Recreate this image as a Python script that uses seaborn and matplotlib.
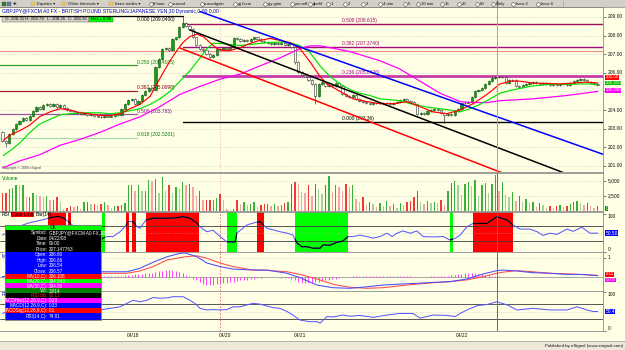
import matplotlib
matplotlib.use("Agg")
import matplotlib.pyplot as plt
from matplotlib.patches import Rectangle
import numpy as np
import pandas as pd
import seaborn as sns

# ---------------- data ----------------
closes = [
    202.35, 202.20, 202.70, 203.00, 203.25, 203.40, 203.55, 203.45, 203.70, 203.95,
    204.15, 204.05, 204.25, 204.30, 204.20, 204.30, 204.15, 204.25, 204.10, 204.00,
    203.95, 203.85, 203.90, 203.80, 203.85, 203.75, 203.80, 203.70, 203.65, 203.60,
    203.70, 203.65, 203.70, 203.80, 203.75, 204.05, 204.30, 204.55, 204.60, 204.30,
    204.50, 204.80, 205.00, 205.20, 205.10, 206.30, 206.75, 207.30, 207.35, 207.20,
    207.80, 207.90, 208.45, 208.70, 208.50, 208.35, 207.90, 207.50, 207.30, 207.20,
    207.00, 206.85, 206.95, 207.30, 207.25, 207.35, 207.30, 207.40, 207.85, 207.80,
    207.70, 207.75, 207.70, 207.80, 207.90, 207.80, 207.70, 207.65, 207.60, 207.55,
    207.60, 207.55, 207.60, 207.50, 207.55, 207.40, 206.60, 206.05, 205.90, 205.80,
    205.60, 205.40, 204.75, 205.40, 205.50, 205.30, 205.35, 205.30, 205.45, 205.30,
    204.85, 204.75, 204.70, 204.80, 204.60, 204.50, 204.45, 204.35, 204.30, 204.40,
    204.35, 204.40, 204.35, 204.40, 204.30, 204.40, 204.45, 204.55, 204.60, 204.50,
    204.45, 204.30, 203.80, 203.85, 203.80, 203.95, 204.00, 204.05, 204.00, 203.85,
    203.75, 203.80, 203.75, 203.95, 204.05, 204.35, 204.40, 204.45, 204.70, 205.00,
    205.10, 205.20, 205.40, 205.55, 205.70, 205.80, 205.75, 205.80, 205.45, 205.60,
    205.60, 205.30, 205.25, 205.35, 205.40, 205.45, 205.50, 205.45, 205.40, 205.45,
    205.40, 205.35, 205.40, 205.35, 205.40, 205.40, 205.35, 205.45, 205.55, 205.60,
    205.65, 205.60, 205.50, 205.45, 205.40, 205.35]
first_open = 202.80
extra_high = {53: 209.05}
extra_low = {1: 202.00, 86: 206.50, 92: 204.30, 130: 203.30}

volume_k = [
    3.0, 3.0, 3.6, 3.7, 4.3, 4.2, 4.2, 2.3, 2.3, 2.9,
    2.6, 2.5, 2.2, 2.5, 1.7, 1.7, 2.2, 1.4, 0.3, 0.4,
    0.7, 0.6, 0.7, 0.3, 1.4, 1.4, 1.1, 1.1, 1.0, 1.1,
    1.4, 1.0, 0.4, 0.7, 0.8, 0.9, 1.3, 4.2, 4.2, 3.3,
    4.2, 3.3, 3.3, 5.1, 5.0, 5.3, 2.9, 5.6, 3.3, 4.2,
    2.9, 3.9, 3.6, 4.7, 4.2, 4.4, 4.0, 2.5, 3.2, 1.7,
    1.7, 1.8, 1.8, 2.1, 2.7, 1.7, 0.2, 0.1, 0.2, 1.8,
    1.1, 1.5, 1.0, 1.1, 1.4, 0.6, 1.0, 1.1, 1.1, 0.8,
    1.1, 0.7, 1.0, 1.2, 1.4, 4.4, 4.7, 4.4, 3.1, 2.9,
    4.2, 2.5, 4.4, 3.6, 2.8, 4.2, 5.7, 3.1, 4.2, 3.9,
    3.3, 4.4, 4.0, 4.2, 1.9, 1.4, 2.2, 0.9, 1.5, 1.1,
    0.6, 1.3, 0.8, 1.6, 0.7, 1.1, 0.5, 1.2, 0.9, 1.4,
    1.6, 2.3, 3.3, 1.4, 1.1, 1.6, 1.2, 1.5, 1.3, 1.7,
    0.9, 3.2, 4.6, 5.0, 4.3, 2.6, 4.4, 4.8, 4.1, 5.1,
    2.5, 4.2, 4.6, 3.0, 4.5, 5.9, 3.3, 4.7, 2.6, 2.2,
    3.1, 1.6, 2.4, 1.4, 1.9, 1.2, 1.5, 0.6, 1.3, 1.0,
    0.5, 0.8, 0.5, 0.7, 0.9, 0.6, 0.8, 1.1, 1.4, 1.6,
    1.2, 0.9, 1.3, 0.7, 0.5, 0.7]

ma10_idx = [0.2, 2.2, 5.2, 8.1, 11.0, 14.0, 16.9, 19.9, 22.8, 25.7, 28.7, 31.6, 34.6, 37.5, 40.4,
            43.4, 46.3, 49.3, 51.3, 53.1, 55.1, 57.2, 59.0, 61.0, 63.1, 64.9, 66.9, 69.9, 72.8, 75.7,
            78.7, 81.6, 84.6, 87.5, 90.4, 93.4, 95.4, 99.3, 103.1, 107.2, 111.0, 114.9, 119.0, 122.8,
            126.6, 130.7, 134.6, 138.4, 142.5, 146.3, 149.3, 152.2, 156.0, 160.1, 164.0, 167.8, 171.9, 175.1]
ma10_val = [202.37, 202.65, 202.9, 203.2, 203.65, 203.9, 204.07, 204.0, 203.85, 203.78, 203.7, 203.7,
            203.8, 204.07, 204.3, 204.73, 205.7, 206.65, 207.2, 207.63, 207.95, 208.07, 207.95, 207.63,
            207.3, 207.2, 207.2, 207.35, 207.58, 207.74, 207.85, 207.74, 207.63, 207.3, 206.6, 205.8,
            205.4, 205.0, 204.6, 204.45, 204.34, 204.34, 204.45, 204.18, 203.9, 203.8, 204.0, 204.34,
            204.84, 205.4, 205.55, 205.55, 205.45, 205.43, 205.4, 205.45, 205.5, 205.45]
ma20_idx = [0.2, 2.2, 5.2, 8.1, 11.0, 14.0, 16.9, 19.9, 22.8, 25.7, 28.7, 31.6, 34.6, 37.5, 40.4,
            43.4, 46.3, 49.3, 52.2, 55.1, 58.1, 60.1, 61.9, 64.0, 66.9, 69.9, 72.8, 75.7, 78.7, 81.6,
            84.6, 87.5, 90.4, 93.4, 96.3, 99.3, 102.2, 105.1, 108.1, 111.0, 114.0, 116.9, 119.9, 122.8,
            125.7, 128.7, 131.6, 134.6, 137.5, 140.4, 143.4, 146.3, 149.3, 152.2, 155.1, 158.1, 161.0,
            164.0, 166.9, 169.9, 172.8, 175.1]
ma20_val = [201.55, 201.8, 202.25, 202.8, 203.25, 203.5, 203.74, 203.8, 203.85, 203.85, 203.85, 203.8,
            203.85, 203.96, 204.07, 204.3, 204.6, 205.0, 205.55, 206.1, 206.8, 207.3, 207.58, 207.58,
            207.52, 207.47, 207.52, 207.58, 207.63, 207.65, 207.62, 207.45, 207.1, 206.37, 205.8, 205.4,
            205.1, 204.9, 204.78, 204.6, 204.55, 204.5, 204.34, 204.23, 204.13, 204.07, 204.0, 203.9,
            204.07, 204.3, 204.6, 204.9, 205.05, 205.16, 205.27, 205.33, 205.38, 205.38, 205.38, 205.4,
            205.4, 205.38]
ma50_idx = [0.2, 5.2, 11.0, 16.9, 22.8, 28.7, 34.6, 40.4, 46.3, 52.2, 58.1, 64.0, 69.9, 75.7, 81.6,
            87.5, 90.4, 93.4, 97.8, 102.2, 111.0, 116.9, 122.8, 128.7, 134.6, 138.4, 142.5, 146.3,
            156.0, 166.0, 175.1]
ma50_val = [200.9, 201.27, 201.6, 202.1, 202.42, 202.8, 203.25, 203.63, 204.18, 204.84, 205.27, 205.66,
            205.93, 206.37, 206.8, 207.3, 207.45, 207.45, 207.3, 207.14, 206.65, 206.2, 205.55, 204.9,
            204.45, 204.4, 204.4, 204.5, 204.6, 204.78, 205.0]

# trend lines: (bar index, price) end points
blue_line = ([58.1, 176.6], [209.29, 201.62])
black_line = ([55.1, 176.6], [208.30, 199.82])
red_line = ([52.2, 176.6], [207.33, 198.52])

# Fibonacci levels
fib_left = [("0.250 (206.4025)", 206.4025, "#2e9e2e", "#007a00"),
            ("0.382 (205.0098)", 205.0098, "#a01838", "#7a0010"),
            ("0.500 (203.765)", 203.765, "#9a55a8", "#70107a"),
            ("0.618 (202.5201)", 202.5201, "#a8dca8", "#007a00")]
fib_left_top = ("0.000 (209.0400)", 209.04)
fib_right = [("0.500 (208.615)", 208.615, "#a0105c", "#a0005a", 1.0),
             ("0.382 (207.3740)", 207.374, "#a0107c", "#a0007a", 1.0),
             ("0.236 (205.8426)", 205.8426, "#c83ca8", "#b000a0", 2.0),
             ("0.000 (203.36)", 203.36, "#000000", "#000000", 1.0)]
salmon_level = 207.17

price_ticks = [201, 202, 203, 204, 205, 206, 207, 208, 209]
price_labels = [201, 202, 203, 204, 206, 207, 208, 209]   # 205.00 is hidden behind the value flags
date_idx = [38.4, 65.3, 87.5, 135.0]
date_lbl = ["04/18", "04/20", "04/21", "04/22"]

zones = [(13.4, 18.7, "r"), (19.3, 20.1, "r"), (29.3, 30.1, "g"), (36.3, 37.2, "r"),
         (38.1, 39.3, "r"), (42.2, 57.8, "r"), (66.0, 69.0, "g"), (74.9, 76.9, "r"),
         (86.0, 101.6, "g"), (131.6, 132.5, "g"), (138.4, 150.1, "r")]
rsic_idx = [0, 2, 4, 6, 8, 10, 12, 13.5, 15, 16.5, 18, 19.5, 21, 23, 25, 27, 28.7, 30.5, 32.5, 34.6,
            36.0, 37.0, 38.4, 39.6, 40.4, 42.2, 44.3, 47.0, 50.0, 53.1, 55.1, 57.2, 58.1, 60.1, 61.9,
            64.0, 66.0, 68.4, 69.0, 71.9, 73.7, 75.7, 77.8, 79.6, 81.6, 83.7, 85.4, 86.6, 88.1, 89.6,
            91.3, 93.4, 94.3, 96.3, 98.4, 100.1, 101.6, 103.1, 105.1, 107.2, 109.0, 111.0, 113.1, 114.6,
            116.0, 117.8, 119.9, 121.9, 123.7, 126.6, 129.6, 131.6, 133.1, 134.6, 136.6, 138.4, 142.5,
            145.4, 148.4, 150.1, 152.2, 155.1, 157.2, 159.0, 161.0, 163.1, 166.0, 167.8, 170.4, 172.8, 175.1]
rsic_val = [45, 55, 65, 72, 78, 82, 86, 90, 93, 95, 90, 80, 68, 60, 52, 42, 32, 41, 41, 54,
            67, 81, 81, 67, 63, 85, 90, 90, 90, 94, 90, 77, 67, 54, 58, 41, 27, 27, 51, 72,
            77, 81, 63, 59, 54, 50, 45, 24, 14, 14, 10, 10, 19, 18, 26, 29, 41, 41, 45, 41,
            37, 41, 50, 41, 50, 56, 50, 56, 41, 40, 41, 32, 36, 45, 67, 76, 76, 94, 85, 72,
            61, 61, 54, 44, 50, 47, 61, 55, 66, 50, 50]

macd_idx = [0, 5, 10, 15, 20, 25, 28.7, 36.6, 40.4, 44.3, 48.4, 52.2, 53.7, 57.2, 60.1, 64.0, 67.8,
            73.7, 77.8, 83.7, 87.5, 92.5, 97.2, 102.2, 107.2, 111.9, 116.9, 121.9, 126.6, 131.6,
            136.6, 141.3, 145.4, 147.2, 151.3, 156.0, 161.0, 166.0, 170.7, 175.1]
macd_val = [0.0, 0.15, 0.3, 0.38, 0.36, 0.3, 0.26, 0.26, 0.44, 0.76, 1.05, 1.23, 1.25, 1.05, 0.72,
            0.53, 0.4, 0.35, 0.35, 0.18, -0.05, -0.44, -0.58, -0.61, -0.53, -0.44, -0.39, -0.35,
            -0.3, -0.26, -0.12, 0.14, 0.32, 0.35, 0.30, 0.21, 0.18, 0.12, 0.12, 0.05]
signal_val = [0.0, 0.08, 0.2, 0.3, 0.32, 0.28, 0.18, 0.18, 0.3, 0.53, 0.88, 1.0, 1.05, 1.1, 0.97,
              0.72, 0.53, 0.35, 0.33, 0.26, 0.12, -0.12, -0.4, -0.56, -0.61, -0.58, -0.48, -0.39,
              -0.32, -0.26, -0.17, 0.0, 0.18, 0.24, 0.32, 0.26, 0.18, 0.15, 0.11, 0.07]
macd_hist = [
    0.05, 0.06, 0.08, 0.09, 0.1, 0.1, 0.09, 0.08, 0.07, 0.06,
    0.05, 0.04, 0.04, 0.03, 0.03, 0.02, 0.02, 0.02, 0.02, 0.02,
    0.01, 0.01, 0.01, 0.0, 0.0, 0.0, 0.0, 0.0, 0.01, 0.02,
    0.03, 0.03, 0.03, 0.04, 0.05, 0.06, 0.07, 0.08, 0.1, 0.12,
    0.14, 0.16, 0.18, 0.2, 0.22, 0.25, 0.28, 0.3, 0.33, 0.35,
    0.33, 0.3, 0.25, 0.18, 0.1, 0.02, -0.1, -0.2, -0.3, -0.38,
    -0.42, -0.44, -0.43, -0.4, -0.38, -0.35, -0.32, -0.3, -0.27, -0.24,
    -0.2, -0.18, -0.15, -0.12, -0.1, -0.08, -0.06, -0.04, -0.02, -0.02,
    -0.03, -0.04, -0.05, -0.06, -0.08, -0.12, -0.2, -0.28, -0.33, -0.35,
    -0.34, -0.32, -0.3, -0.27, -0.24, -0.2, -0.17, -0.13, -0.1, -0.06,
    -0.03, -0.01, 0.01, 0.03, 0.04, 0.05, 0.06, 0.06, 0.06, 0.05,
    0.05, 0.05, 0.04, 0.04, 0.04, 0.03, 0.03, 0.03, 0.03, 0.02,
    0.02, 0.01, 0.0, 0.0, 0.01, 0.01, 0.02, 0.02, 0.02, 0.03,
    0.04, 0.05, 0.08, 0.1, 0.12, 0.15, 0.17, 0.18, 0.18, 0.17,
    0.15, 0.13, 0.1, 0.08, 0.06, 0.04, 0.02, 0.0, -0.02, -0.03,
    -0.04, -0.04, -0.04, -0.04, -0.04, -0.03, -0.03, -0.03, -0.03, -0.03,
    -0.02, -0.02, -0.02, -0.02, -0.02, -0.02, -0.02, -0.02, -0.02, -0.02,
    -0.02, -0.02, -0.02, -0.02, -0.02, -0.02]

rsi_idx = [0, 3, 6, 9, 12, 15, 18, 21, 24, 27, 28.7, 31.6, 34.6, 36.6, 38.4, 40.4, 42.5, 44.3, 46.3,
           48.4, 50.2, 53.1, 55.1, 56.6, 58.1, 60.1, 61.9, 64.0, 66.0, 67.8, 69.9, 71.9, 73.7, 75.7,
           77.8, 79.6, 81.6, 83.7, 85.4, 87.5, 90.4, 92.5, 93.4, 95.4, 97.2, 100.1, 102.2, 105.1,
           109.0, 113.1, 116.9, 120.7, 122.8, 126.6, 130.7, 133.1, 134.6, 136.6, 139.6, 142.5, 145.4,
           148.4, 151.3, 156.0, 161.0, 166.0, 169.0, 171.9, 173.7, 175.1]
rsi_val = [45, 58, 66, 70, 72, 70, 64, 60, 56, 54, 54, 58, 62, 71, 79, 75, 79, 86, 84, 85,
           88, 88, 79, 71, 58, 54, 55, 54, 55, 62, 62, 67, 71, 69, 64, 60, 58, 50, 41, 28,
           24, 24, 20, 37, 36, 41, 38, 40, 35, 41, 45, 45, 33, 41, 40, 37, 45, 54, 65, 68,
           75, 67, 54, 58, 54, 54, 62, 54, 50, 50]

cursor_idx = 145.5
weekend_idx = 64.0

info_rows = [
    (225.0, 229.6, "#00FF00", "#000000", ["OK"]),
    (229.6, 252.0, "#000000", "#FFFFFF", ["Symbol: GBPJPY@FXCM A0 FX,30", "Date: 04/22/08",
                                          "Time: 06:00", "Price: 207.147763"]),
    (252.0, 273.8, "#0000FF", "#FFFFFF", ["Open: 206.60", "High: 206.66", "Low: 206.54", "Close: 206.57"]),
    (273.8, 278.6, "#FF0000", "#FFFFFF", ["MA(10,C): 206.108"]),
    (278.6, 283.4, "#00FF00", "#FFFFFF", ["MA(20,C): 204.543"]),
    (283.4, 288.2, "#FF00FF", "#FFFFFF", ["MA(50,C): 204.80"]),
    (288.2, 293.0, "#008000", "#FFFFFF", ["Vol: 3,814"]),
    (293.0, 297.8, "#000000", "#FF2020", ["RSI clb: 92.13"]),
    (297.8, 302.8, "#FF00FF", "#FFFFFF", ["MACDHist(12,26,9,C): 0.23"]),
    (302.8, 307.8, "#0000FF", "#FFFFFF", ["MACD(12,26,9,C): 0.33"]),
    (307.8, 312.8, "#FF0000", "#FFFFFF", ["MACDSig(12,26,9,C): 0.1"]),
    (312.8, 320.0, "#0000FF", "#FFFFFF", ["RSI(14,C): 74.81"]),
]

# ---------------- styling ----------------
sns.set_theme(style="white")
plt.rcParams["font.family"] = ["Liberation Sans", "DejaVu Sans"]

W, H = 625, 350
BG = "#FFFFE6"
FS = 3.5
XMIN, XMAX = (0 - 2.5) / 3.4, (603 - 2.5) / 3.4
PRICE_LIM = (209 - 155 / 18.6, 209 + 10 / 18.6)

fig = plt.figure(figsize=(6.25, 3.5), dpi=100)
fig.patch.set_facecolor(BG)


def panel(y0, y1, ylim):
    ax = fig.add_axes([0, 1 - y1 / H, 603 / W, (y1 - y0) / H])
    ax.set_facecolor(BG)
    ax.set_xlim(XMIN, XMAX)
    ax.set_ylim(*ylim)
    ax.set_xticks([])
    ax.spines["left"].set_visible(False)
    for s in ["top", "bottom", "right"]:
        ax.spines[s].set_color("#8c8c8c")
        ax.spines[s].set_linewidth(0.6)
    ax.grid(False)
    ax.yaxis.tick_right()
    ax.tick_params(axis="y", length=1.8, width=0.4, colors="#202020", labelright=False, labelleft=False)
    return ax


def finish(ax, ylim):
    ax.set_xlim(XMIN, XMAX)
    ax.set_ylim(*ylim)
    ax.set_xlabel("")
    ax.set_ylabel("")


def rlabel(ax, val, txt, va="center"):
    ax.text(1.008, val, txt, transform=ax.get_yaxis_transform(), fontsize=FS, va=va, ha="left",
            color="#101010", clip_on=False)


def flag(ax, val, txt, fc, tc="white", fs=FS):
    ax.text(1.004, val, txt, transform=ax.get_yaxis_transform(), fontsize=fs, va="center", ha="left",
            color=tc, clip_on=False, zorder=8,
            bbox=dict(boxstyle="square,pad=0.06", fc=fc, ec="none"))


def dotted(ax, y, color="#b5b5b5"):
    ax.axhline(y, color=color, lw=0.5, ls=(0, (1, 2.5)), zorder=1)


# ---------------- main price panel ----------------
ax = panel(7, 172, PRICE_LIM)
for p in price_ticks:
    dotted(ax, p)
ax.axvline(weekend_idx, color="#e6a0a0", lw=0.6, ls=(0, (1, 2)), zorder=1)

ax.plot([XMIN, 53.1], [fib_left_top[1]] * 2, color="black", lw=0.9, zorder=2)
ax.text(39.6, fib_left_top[1] - 0.04, fib_left_top[0], fontsize=FS, color="black", va="top", zorder=3)
for lbl, lv, lc, tc in fib_left:
    ax.plot([XMIN, 39.6], [lv, lv], color=lc, lw=0.9, zorder=2)
    ax.text(39.6, lv + 0.04, lbl, fontsize=FS, color=tc, va="bottom", zorder=3)
ax.axhline(salmon_level, color="#f09090", lw=0.8, zorder=2)
for lbl, lv, lc, tc, lw in fib_right:
    ax.plot([53.1, XMAX], [lv, lv], color=lc, lw=lw, zorder=2)
    ax.text(99.9, lv + 0.05, lbl, fontsize=FS, color=tc, va="bottom", zorder=3)

N = len(closes)
idx = np.arange(N)
cl = np.array(closes)
op = np.array([first_open] + closes[:-1])
hi = np.maximum(op, cl) + 0.05
lo = np.minimum(op, cl) - 0.05
for k, v in extra_high.items():
    hi[k] = v
for k, v in extra_low.items():
    lo[k] = v
up = cl >= op
ax.vlines(idx, lo, hi, color="#202020", lw=0.45, zorder=4)
ax.bar(idx, np.maximum(np.abs(cl - op), 0.025), bottom=np.minimum(op, cl), width=0.66,
       color=np.where(up, "#14a014", "#ffffff"), edgecolor=np.where(up, "#0b500b", "#303030"),
       linewidth=0.4, zorder=4)

sns.lineplot(x=ma50_idx, y=ma50_val, ax=ax, color="#ff00ff", lw=0.9, zorder=5)
sns.lineplot(x=ma20_idx, y=ma20_val, ax=ax, color="#00e000", lw=0.85, zorder=5)
sns.lineplot(x=ma10_idx, y=ma10_val, ax=ax, color="#ff0000", lw=0.85, zorder=5)
for (xs, ys), c in [(blue_line, "#0000ff"), (black_line, "#000000"), (red_line, "#ff0000")]:
    sns.lineplot(x=xs, y=ys, ax=ax, color=c, lw=1.1, zorder=5)
finish(ax, PRICE_LIM)
ax.set_yticks(price_ticks)
for p in price_labels:
    rlabel(ax, p, f"{p:.2f}")
flag(ax, 205.75, "205.50", "#ff0000", fs=3.2)
flag(ax, 205.46, "205.450", "#00c000", fs=3.2)
flag(ax, 205.05, "205.090", "#ff00ff", fs=3.2)
ax.text(0.004, 0.015, "Copyright \u00a9 2008 eSignal", transform=ax.transAxes, fontsize=2.4,
        color="#404040", va="bottom")
ax.axvline(cursor_idx, color="#c890a8", lw=0.7, zorder=6)

# ---------------- volume ----------------
VOL_LIM = (-80, 6250)
axv = panel(173, 211, VOL_LIM)
vol = np.array(volume_k) * 1000
prev = np.r_[vol[0], vol[:-1]]
vcols = [("#3cae3c" if v >= p else "#9fd49f") if u else ("#f03a3a" if v >= p else "#f5a5a5")
         for v, p, u in zip(vol, prev, up)]
axv.bar(idx, vol, width=0.42, color=vcols, linewidth=0, zorder=3)
dotted(axv, 5000)
dotted(axv, 2500)
axv.axvline(weekend_idx, color="#e6a0a0", lw=0.6, ls=(0, (1, 2)), zorder=1)
axv.axvline(cursor_idx, color="#c84060", lw=0.7, zorder=6)
finish(axv, VOL_LIM)
axv.set_yticks([2500, 5000])
rlabel(axv, 5000, "5,000")
rlabel(axv, 2500, "2,500")
flag(axv, 350, "0", "#00a000")
axv.text(0.003, 0.86, "Volume", transform=axv.transAxes, fontsize=FS, color="#008000", va="center")

# ---------------- RSI color line ----------------
RC_LIM = (-0.13, 106.5)
axc = panel(212, 252, RC_LIM)
zone_col = {"r": "#ff0000", "g": "#00ff00"}
for a, b, c in zones:
    axc.axvspan(a, b, color=zone_col[c], lw=0, zorder=1)
axc.axhline(70, color="#3a3a3a", lw=0.6, zorder=2)
axc.axhline(30, color="#3a3a3a", lw=0.6, zorder=2)
dotted(axc, 50)
sns.lineplot(x=rsic_idx, y=rsic_val, ax=axc, color="#5a5aff", lw=0.75, zorder=4)
for a, b, c in zones:
    sns.lineplot(x=rsic_idx, y=rsic_val, ax=axc, color="black", lw=0.85, zorder=5)
    clip = Rectangle((a, -10), b - a, 130, transform=axc.transData)
    axc.lines[-1].set_clip_path(clip)
axc.axvline(weekend_idx, color="#e06060", lw=0.6, ls=(0, (2, 2)), zorder=3)
axc.axvline(cursor_idx, color="#c84060", lw=0.7, zorder=6)
finish(axc, RC_LIM)
axc.set_yticks([0, 100])
rlabel(axc, 100, "100", va="top")
rlabel(axc, 0, "0", va="bottom")
flag(axc, 50, "50.50", "#0000ff")
axc.text(0.002, 0.94, "RSI", transform=axc.transAxes, fontsize=FS, color="black", va="center")
axc.text(0.019, 0.94, "Color Line", transform=axc.transAxes, fontsize=FS, color="black", va="center",
         bbox=dict(boxstyle="square,pad=0.08", fc="#ff0000", ec="none"))
axc.text(0.059, 0.94, "Bar(14)", transform=axc.transAxes, fontsize=FS, color="black", va="center")

# ---------------- MACD ----------------
M_LIM = (-0.753, 1.3)
axm = panel(252, 291, M_LIM)
dotted(axm, 1.0)
axm.axhline(0, color="#9a9a9a", lw=0.6, zorder=2)
axm.vlines(idx, 0, macd_hist, color="#ff30ff", lw=0.65, zorder=3)
sns.lineplot(x=macd_idx, y=signal_val, ax=axm, color="#ff4a4a", lw=0.75, zorder=4)
sns.lineplot(x=macd_idx, y=macd_val, ax=axm, color="#4a4aff", lw=0.75, zorder=4)
axm.axvline(weekend_idx, color="#e06060", lw=0.6, ls=(0, (2, 2)), zorder=3)
axm.axvline(cursor_idx, color="#c84060", lw=0.7, zorder=6)
finish(axm, M_LIM)
axm.set_yticks([1])
rlabel(axm, 1, "1")
flag(axm, 0.12, "0.11", "#ff0000", fs=3.2)
flag(axm, -0.17, "-0.02", "#ff00ff", fs=3.2)
axm.text(0.002, 0.88, "M", transform=axm.transAxes, fontsize=FS, color="#0000c0", va="center")

# ---------------- RSI ----------------
R_LIM = (0.0, 102.6)
axr = panel(291, 331, R_LIM)
axr.axhline(70, color="#3a3a3a", lw=0.6, zorder=2)
axr.axhline(30, color="#3a3a3a", lw=0.6, zorder=2)
dotted(axr, 50)
sns.lineplot(x=rsi_idx, y=rsi_val, ax=axr, color="#5a5aff", lw=0.75, zorder=4)
axr.axvline(weekend_idx, color="#e06060", lw=0.6, ls=(0, (2, 2)), zorder=3)
axr.axvline(cursor_idx, color="#c84060", lw=0.7, zorder=6)
finish(axr, R_LIM)
axr.set_yticks([0, 100])
rlabel(axr, 100, "100", va="top")
rlabel(axr, 0, "0", va="bottom")
flag(axr, 50, "50.4", "#0000ff")
axr.text(0.002, 0.9, "R", transform=axr.transAxes, fontsize=FS, color="#0000c0", va="center")
axr.set_xticks(date_idx)
axr.set_xticklabels(date_lbl, fontsize=FS, color="#101010")
axr.tick_params(axis="x", length=0, pad=1.3, bottom=True)

# ---------------- overlay: toolbar, title, header, info box, footer ----------------
ov = fig.add_axes([0, 0, 1, 1], zorder=20)
ov.set_xlim(0, W)
ov.set_ylim(H, 0)
ov.axis("off")
ov.patch.set_alpha(0)

ov.add_patch(Rectangle((0, 0), W, 7.2, fc="#D4D0C8", ec="none"))
ov.plot([0, W], [7.2, 7.2], color="#808080", lw=0.5)
ov.plot([563, 563], [0.5, 6.7], color="#909090", lw=0.4)
ov.add_patch(Rectangle((1.5, 1.5), 4.2, 4, fc="#2f7d32", ec="#404040", lw=0.2))
ov.add_patch(Rectangle((7.2, 1.5), 4.2, 4, fc="#5a7fb0", ec="#404040", lw=0.2))
ov.text(14.5, 3.7, "\u271a", fontsize=3.2, va="center", ha="center", color="#202020")
for x0, t in [(31, "Equities \u25be"), (62, "Other Intervals \u25be"), (109, "forex trades \u25be")]:
    ov.add_patch(Rectangle((x0, 2.0), 4.2, 3.2, fc="#F2D25A", ec="#9a7a20", lw=0.2))
    ov.text(x0 + 5.8, 3.7, t, fontsize=3.1, va="center", color="#101010")
clocks = [(150.5, "8 hour"), (170, "eurcad"), (201.5, "eurcadgain"), (235, "gj fxcm"), (265, "gy gain"),
          (292, "ym m8"), (310, "gbchf"), (328, "1"), (345, "2"), (363, "3"), (380, "4 min"), (405, "5"),
          (418, "10 min"), (442, "15"), (459, "20"), (477, "60"), (493, "Daily"), (513, "hour 2"),
          (538, "hour 4")]
for x0, t in clocks:
    ov.plot(x0, 3.7, "o", ms=2.6, mfc="white", mec="#333333", mew=0.35)
    ov.text(x0 + 2.7, 3.8, t, fontsize=3.1, va="center", color="#101010")
ov.plot([497.2, 497.2], [0, 7.2], color="#d02040", lw=0.6)

ov.text(2, 11.6, "GBPJPY@FXCM A0 FX - BRITISH POUND STERLING/JAPANESE YEN,30 Dynamic,0.00 0.00",
        fontsize=3.7, color="#0000c8", va="center", ha="left")

ov.add_patch(Rectangle((2, 16.8), 87, 5.2, fc="#D4D0C8", ec="#505050", lw=0.3))
ov.add_patch(Rectangle((89, 16.8), 24, 5.2, fc="#00FF00", ec="#505050", lw=0.3))
for x0, t in [(5, "O: 208.31"), (25, "H: 208.79"), (47, "L: 208.26"), (68, "C: 208.36")]:
    ov.text(x0, 19.5, t, fontsize=3.2, va="center", color="#101010")
ov.text(101, 19.5, "Net + 0.06", fontsize=3.2, va="center", ha="center", color="#101010")

for y0, y1, bg, fc, lines in info_rows:
    ov.add_patch(Rectangle((5, y0), 96, y1 - y0, fc=bg, ec="none"))
    h = (y1 - y0) / len(lines)
    for k, t in enumerate(lines):
        yy = y0 + (k + 0.55) * h
        if ": " in t:
            a, b = t.split(": ", 1)
            ov.text(47.5, yy, a + ":", fontsize=3.3, va="center", ha="right", color=fc)
            ov.text(48.8, yy, b, fontsize=3.3, va="center", ha="left", color=fc)
        else:
            ov.text(53, yy, t, fontsize=3.3, va="center", ha="center", color=fc)
ov.add_patch(Rectangle((5, 225), 96, 95, fc="none", ec="#7a7a7a", lw=0.6))

ov.add_patch(Rectangle((0, 340.5), W, 9.5, fc="#ECE9D8", ec="none"))
ov.plot([0, W], [340.5, 340.5], color="#9a9a9a", lw=0.5)
ov.text(623, 345.6, "Published by eSignal (www.esignal.com)", fontsize=3.2, va="center", ha="right",
        color="#101010")

fig.savefig("out.png", dpi=100, facecolor=fig.get_facecolor())
